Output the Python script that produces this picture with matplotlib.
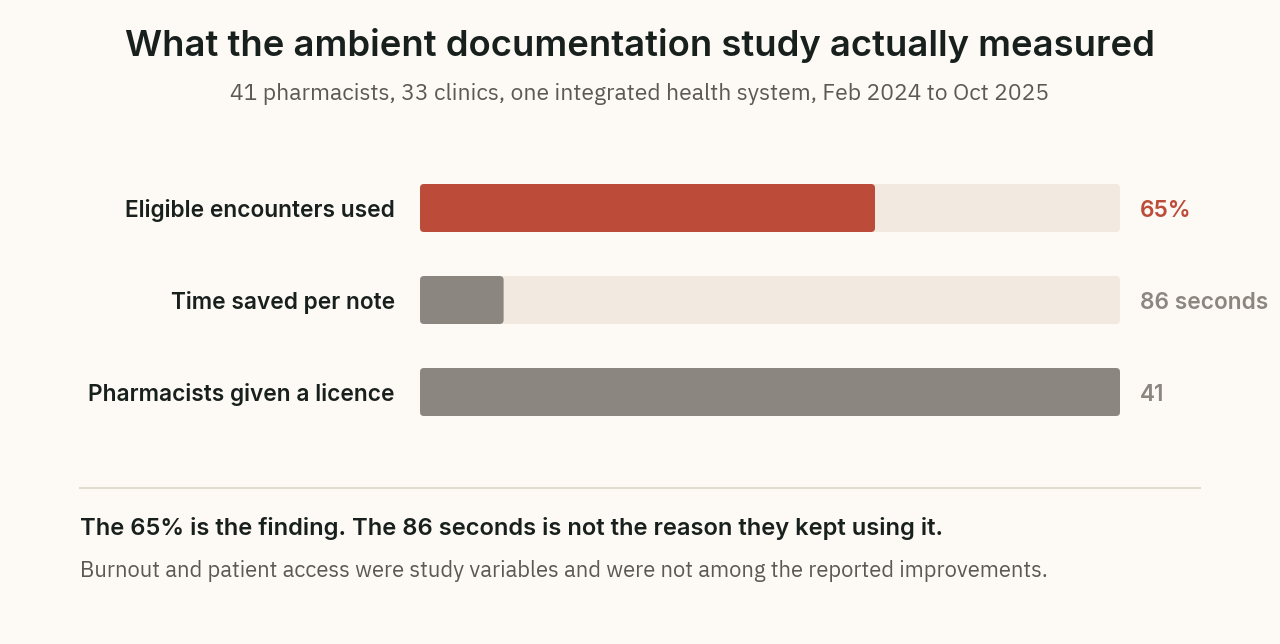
import matplotlib
matplotlib.use('Agg')
import matplotlib.pyplot as plt
from matplotlib.patches import FancyBboxPatch

# ── data ───────────────────────────────────────────────────────────────────────
labels = ['Eligible encounters used', 'Time saved per note', 'Pharmacists given a licence']
values = [65, 86, 41]
scale_max = [100, 720, 41]
value_text = ['65%', '86 seconds', '41']

title = 'What the ambient documentation study actually measured'
subtitle = '41 pharmacists, 33 clinics, one integrated health system, Feb 2024 to Oct 2025'
finding = 'The 65% is the finding. The 86 seconds is not the reason they kept using it.'
note = 'Burnout and patient access were study variables and were not among the reported improvements.'

# ── style ──────────────────────────────────────────────────────────────────────
BG = '#fdf9f4'
TRACK = '#f2e9e0'
RED = '#bc4b39'
GREY = '#8b8680'
INK = '#18201e'
MUTED = '#5c5955'
RULE = '#e3ddd0'
bar_colors = [RED, GREY, GREY]
value_colors = [RED, GREY, GREY]

REG = ['IBM Plex Sans', 'DejaVu Sans']
BOLD = ['Inter', 'DejaVu Sans']

W, H = 1280, 644
fig = plt.figure(figsize=(W / 100, H / 100), dpi=100, facecolor=BG)
renderer = fig.canvas.get_renderer()


def fit(t, target_px):
    """Scale a text's font size so it spans target_px pixels."""
    w = t.get_window_extent(renderer).width
    t.set_fontsize(t.get_fontsize() * target_px / w)
    return t.get_fontsize()


def fy(px):
    return 1 - px / H


# bar area: x 420..1120 px, y 184..416 px
ax = fig.add_axes([420 / W, fy(416), 700 / W, 232 / H])
ax.set_facecolor('none')
bar_h = 48 / 92
ax.set_xlim(0, 1)
ax.set_ylim(len(labels) - 1 + bar_h / 2, -bar_h / 2)
ax.axis('off')

r = 4 / 700
aspect = 700 / 92
label_texts, value_texts = [], []
for i, (v, m) in enumerate(zip(values, scale_max)):
    frac = v / m
    ax.add_patch(FancyBboxPatch((0, i - bar_h / 2), 1, bar_h,
                                boxstyle=f'round,pad=0,rounding_size={r}',
                                mutation_aspect=aspect, fc=TRACK, ec='none'))
    ax.add_patch(FancyBboxPatch((0, i - bar_h / 2), frac, bar_h,
                                boxstyle=f'round,pad=0,rounding_size={r}',
                                mutation_aspect=aspect, fc=bar_colors[i], ec='none'))
    label_texts.append(ax.text(-25 / 700, i + 9 / 92, labels[i], ha='right', va='baseline',
                               fontsize=16, fontweight=600, family=BOLD, color=INK,
                               clip_on=False))
    value_texts.append(ax.text(1 + 20 / 700, i + 9 / 92, value_text[i], ha='left',
                               va='baseline', fontsize=16, fontweight=600, family=BOLD,
                               color=value_colors[i], clip_on=False))

size = fit(label_texts[2], 306)
for t in label_texts + value_texts:
    t.set_fontsize(size)

# titles
t = fig.text(640 / W, fy(56), title, ha='center', va='baseline',
             fontsize=26, fontweight=600, family=BOLD, color=INK)
fit(t, 1030)
t = fig.text(640 / W, fy(100), subtitle, ha='center', va='baseline',
             fontsize=16, family=REG, color=MUTED)
fit(t, 820)

# rule + footer
fig.add_artist(plt.Line2D([80 / W, 1200 / W], [fy(488), fy(488)], color=RULE, lw=1.5))
t = fig.text(80 / W, fy(535), finding, ha='left', va='baseline',
             fontsize=16, fontweight=600, family=BOLD, color=INK)
fit(t, 862)
t = fig.text(80 / W, fy(577), note, ha='left', va='baseline',
             fontsize=15, family=REG, color=MUTED)
fit(t, 966)

fig.savefig('out.png', dpi=100, facecolor=BG)
